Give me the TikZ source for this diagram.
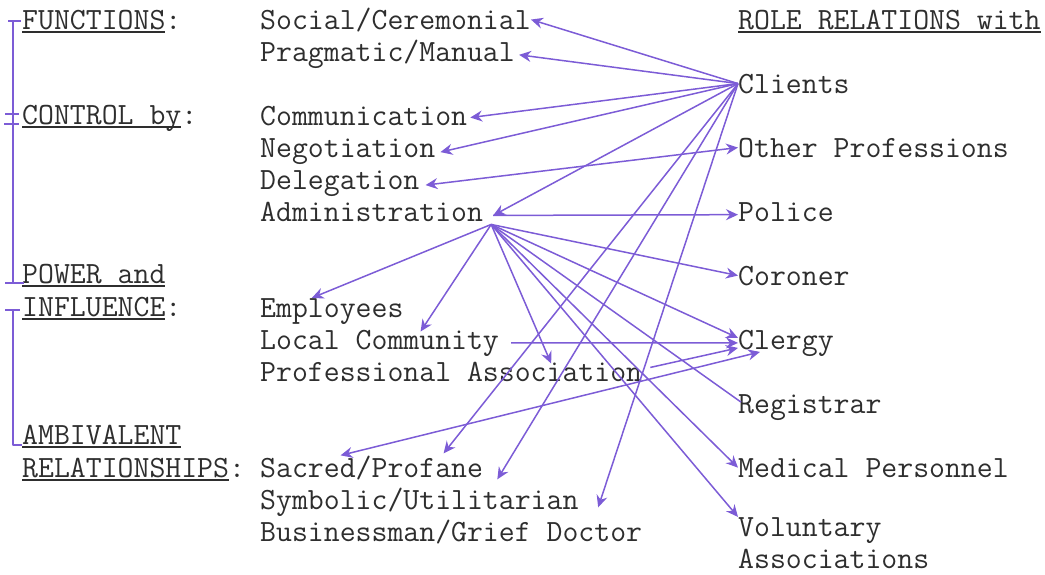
\documentclass[tikz,border=0pt]{standalone}
\usepackage{tikz}
\usetikzlibrary{arrows.meta}
\usetikzlibrary{calc}
\definecolor{pen}{RGB}{124,92,214}
\newcommand\undl[1]{\setbox0\hbox{#1}\rlap{\rule[-3.5pt]{\wd0}{1.1pt}}\box0}
\tikzset{tx/.style={anchor=base west,inner sep=0pt,text=black!82,align=left,font=\ttfamily\fontsize{30.9}{32}\selectfont}}
\tikzset{ln/.style={draw=pen,line width=1.5pt}}
\tikzset{ar/.style={ln,-{Stealth[length=12pt,width=11pt,inset=4pt]}}}
\tikzset{ar2/.style={ln,{Stealth[length=12pt,width=11pt,inset=4pt]}-{Stealth[length=12pt,width=11pt,inset=4pt]}}}

\begin{document}
\begin{tikzpicture}[line join=round,x=1pt,y=-1pt]
\useasboundingbox (0,0) rectangle (1045,574);
% left column
\node[tx] (fun) at (22,29) {\undl{FUNCTIONS}:};
\node[tx] (con) at (22,124) {\undl{CONTROL by}:};
\node[tx] (pow) at (22,283) {\undl{POWER and}};
\node[tx] (inf) at (22,316) {\undl{INFLUENCE}:};
\node[tx] (amb) at (22,444) {\undl{AMBIVALENT}};
\node[tx] (rel) at (22,477) {\undl{RELATIONSHIPS}:};
% middle column
\node[tx] (soc) at (260,29) {Social/Ceremonial};
\node[tx] (prag) at (260,61) {Pragmatic/Manual};
\node[tx] (comm) at (260,125) {Communication};
\node[tx] (nego) at (260,157) {Negotiation};
\node[tx] (dele) at (260,189) {Delegation};
\node[tx] (admin) at (260,221) {Administration};
\node[tx] (empl) at (260,317) {Employees};
\node[tx] (loc) at (260,349) {Local Community};
\node[tx] (prof) at (260,381) {Professional Association};
\node[tx] (sacr) at (260,477) {Sacred/Profane};
\node[tx] (symb) at (260,509) {Symbolic/Utilitarian};
\node[tx] (bus) at (260,541) {Businessman/Grief Doctor};
% right column
\node[tx] (role) at (738,29) {\undl{ROLE RELATIONS with}};
\node[tx] (cli) at (738,93) {Clients};
\node[tx] (oth) at (738,157) {Other Professions};
\node[tx] (pol) at (738,221) {Police};
\node[tx] (cor) at (738,285) {Coroner};
\node[tx] (cle) at (738,349) {Clergy};
\node[tx] (reg) at (738,413) {Registrar};
\node[tx] (med) at (738,477) {Medical Personnel};
\node[tx] (vol) at (738,568) {Voluntary\\Associations};
% bracket
\draw[ln] (8,21)--(21,21) (13,21)--(13,283) (5,114)--(19,114) (4,124)--(19,124) (5,283)--(24,283);
\draw[ln] (5,310)--(20,310) (13,310)--(13,445)--(22,445);
% hub points
\coordinate (admt) at ([shift={(10,4)}]admin.east);
\coordinate (adm) at ([shift={(8,13)}]admin.east);
% from clients
\draw[ar] (cli.west) -- (soc.east);
\draw[ar] (cli.west) -- ([shift={(4,1)}]prag.east);
\draw[ar] (cli.west) -- ([shift={(3,2)}]comm.east);
\draw[ar] (cli.west) -- ([shift={(5,1)}]nego.east);
\draw[ar] (cli.west) -- (admt);
\draw[ar] (cli.west) -- ([shift={(72,-2)}]sacr.north);
\draw[ar] (cli.west) -- ([shift={(78,-8)}]symb.north);
\draw[ar] (cli.west) -- ([shift={(147,-12)}]bus.north);
\draw[ar2] ([shift={(6,2)}]dele.east) -- (oth.west);
% from administration
\draw[ar] (admt) -- ([shift={(0,3)}]pol.west);
\draw[ar] (adm) -- ([shift={(-20,0)}]empl.north);
\draw[ar] (adm) -- ([shift={(41,2)}]loc.north);
\draw[ar] (adm) -- ([shift={(100,2)}]prof.north);
\draw[ar] (adm) -- (cor.west);
\draw[ar] (adm) -- ([shift={(0,-5)}]cle.west);
\draw[ln] (adm) -- ([shift={(3,-5)}]reg.west);
\draw[ar] (adm) -- (med.west);
\draw[ar] (adm) -- (vol.north west);
% into clergy
\draw[ar] ([shift={(12,0)}]loc.east) -- (cle.west);
\draw[ar] ([shift={(8,-4)}]prof.east) -- ([shift={(0,5)}]cle.west);
\draw[ar2] ([shift={(-31,0)}]sacr.north) -- ([shift={(22,9)}]cle.west);
\end{tikzpicture}
\end{document}
